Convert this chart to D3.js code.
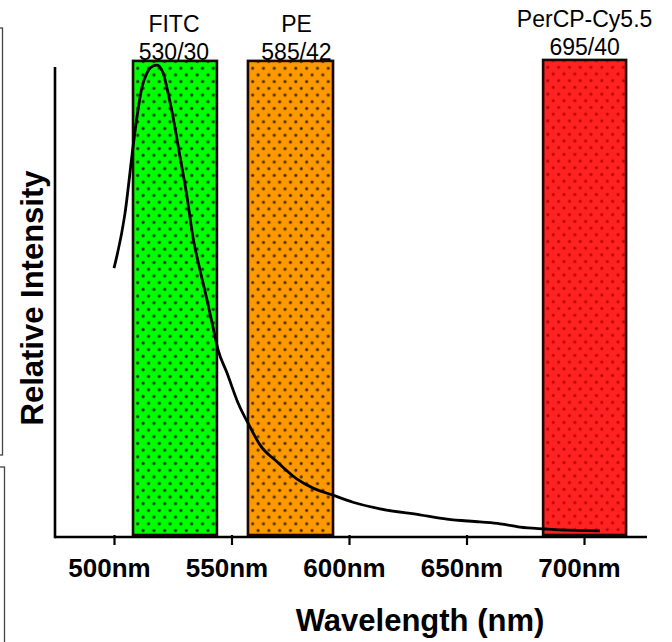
<!DOCTYPE html>
<html>
<head>
<meta charset="utf-8">
<script src="https://cdn.jsdelivr.net/npm/d3@7"></script>
<style>
  html, body { margin: 0; padding: 0; background: #fff; }
  svg { display: block; font-family: "Liberation Sans", Arial, sans-serif; }
</style>
</head>
<body>
<svg id="chart" width="672" height="642"></svg>
<script>
// ---- data ----
const filterNames = ["FITC", "PE", "PerCP-Cy5.5"];
const filterBands = ["530/30", "585/42", "695/40"];
const filterStart = [508.1, 557.0, 682.6];   // nm (as drawn)
const filterEnd   = [543.8, 593.2, 717.9];   // nm (as drawn)
const filterTop   = [101.3, 101.3, 101.5];   // relative intensity
const filterColors = ["#00ff00", "#ff9900", "#ff2222"];
const filterDots   = ["#1a1a1a", "#3a2200", "#b80000"];

const curveNm = [500, 504.7, 508.1, 509.8, 511.9, 514.0, 516.6, 518.3, 520.9, 523.0, 525.1, 528.1,
  531.1, 533.6, 536.6, 539.6, 542.1, 544.3, 548.1, 552.8, 557.9, 562.1, 569.4, 577.9, 584.7,
  593.2, 601.7, 613.2, 630.2, 641.7, 655.7, 664.3, 672.8, 683.4, 689.8, 706.8];
const curveIntensity = [57.2, 68.9, 83.0, 89.4, 95.7, 98.7, 100.2, 100.4, 98.7, 94.5, 89.4, 80.9,
  72.3, 63.8, 56.8, 50.4, 44.7, 39.8, 34.9, 28.5, 23.4, 19.6, 16.0, 12.3, 10.4,
  8.9, 7.4, 6.0, 4.7, 3.8, 3.2, 2.8, 2.1, 1.7, 1.5, 1.3];

const tickValues = [500, 550, 600, 650, 700];
const tickLabels = ["500nm", "550nm", "600nm", "650nm", "700nm"];
const xTitle = "Wavelength (nm)";
const yTitle = "Relative Intensity";

// ---- drawing ----
const svg = d3.select("#chart");
const x = d3.scaleLinear().domain([474.9, 726.8]).range([55, 647]);
const y = d3.scaleLinear().domain([0, 100]).range([537, 67]);

// cropped frames at left edge
svg.append("rect").attr("x", -10).attr("y", 28).attr("width", 12.5).attr("height", 427)
  .attr("fill", "none").attr("stroke", "#444").attr("stroke-width", 1.3);
svg.append("rect").attr("x", -10).attr("y", 467).attr("width", 14.5).attr("height", 200)
  .attr("fill", "none").attr("stroke", "#444").attr("stroke-width", 1.3);

// dot patterns
const defs = svg.append("defs");
filterColors.forEach((c, i) => {
  const p = defs.append("pattern").attr("id", "dots" + i)
    .attr("patternUnits", "userSpaceOnUse").attr("width", 10.8).attr("height", 13.4)
    .attr("x", x(filterStart[i]) + 2).attr("y", y(filterTop[i]) + 4);
  p.append("rect").attr("width", 10.8).attr("height", 13.4).attr("fill", c);
  [[2.7, 3.3], [8.1, 10]].forEach(([cx, cy]) => {
    p.append("circle").attr("cx", cx).attr("cy", cy).attr("r", 1.9)
      .attr("fill", filterDots[i]).attr("opacity", 0.35);
    p.append("circle").attr("cx", cx).attr("cy", cy).attr("r", 1.2).attr("fill", filterDots[i]);
  });
});

// filter bars
svg.append("g").selectAll("rect").data(filterNames).join("rect")
  .attr("x", (d, i) => x(filterStart[i]))
  .attr("y", (d, i) => y(filterTop[i]))
  .attr("width", (d, i) => x(filterEnd[i]) - x(filterStart[i]))
  .attr("height", (d, i) => y(0) - 2 - y(filterTop[i]))
  .attr("fill", (d, i) => `url(#dots${i})`)
  .attr("stroke", "#1a0808").attr("stroke-width", 2.6);

// filter labels
const labelDx = [-1, 6, 0];
const labelBaseY = [32, 32, 27];
const lbl = svg.append("g").attr("font-size", 23).attr("fill", "#000").attr("text-anchor", "middle");
filterNames.forEach((n, i) => {
  const cx = (x(filterStart[i]) + x(filterEnd[i])) / 2 + labelDx[i];
  lbl.append("text").attr("x", cx).attr("y", labelBaseY[i]).text(n);
  lbl.append("text").attr("x", cx).attr("y", labelBaseY[i] + 28).text(filterBands[i]);
});

// axes
svg.append("line").attr("x1", x.range()[0]).attr("x2", x.range()[0])
  .attr("y1", y(100)).attr("y2", y(0) + 1.2).attr("stroke", "#000").attr("stroke-width", 2.6);
const xAxis = d3.axisBottom(x).tickValues(tickValues).tickSize(8)
  .tickFormat((d, i) => tickLabels[i]).tickPadding(6);
const gx = svg.append("g").attr("transform", `translate(0,${y(0)})`).call(xAxis);
gx.select(".domain").attr("d", `M${x.range()[0]},0H${x.range()[1]}`)
  .attr("stroke", "#000").attr("stroke-width", 2.6);
gx.selectAll(".tick line").attr("stroke", "#000").attr("stroke-width", 2.2).attr("y1", -2);
gx.selectAll(".tick text").attr("font-size", 26).attr("font-weight", "bold")
  .attr("font-family", "'Liberation Sans', Arial, sans-serif").attr("fill", "#000")
  .attr("dx", -5).attr("dy", null).attr("y", 40);

// emission curve
const line = d3.line().x((d, i) => x(curveNm[i])).y((d, i) => y(curveIntensity[i]))
  .curve(d3.curveMonotoneX);
svg.append("path").datum(curveNm).attr("d", line)
  .attr("fill", "none").attr("stroke", "#000").attr("stroke-width", 2.8)
  .attr("stroke-linejoin", "round");

// titles
svg.append("text").attr("x", 420).attr("y", 631).attr("text-anchor", "middle")
  .attr("font-size", 31).attr("font-weight", "bold").text(xTitle);
svg.append("text").attr("transform", "translate(43,298) rotate(-90)").attr("text-anchor", "middle")
  .attr("font-size", 31).attr("font-weight", "bold").text(yTitle);
</script>
</body>
</html>
